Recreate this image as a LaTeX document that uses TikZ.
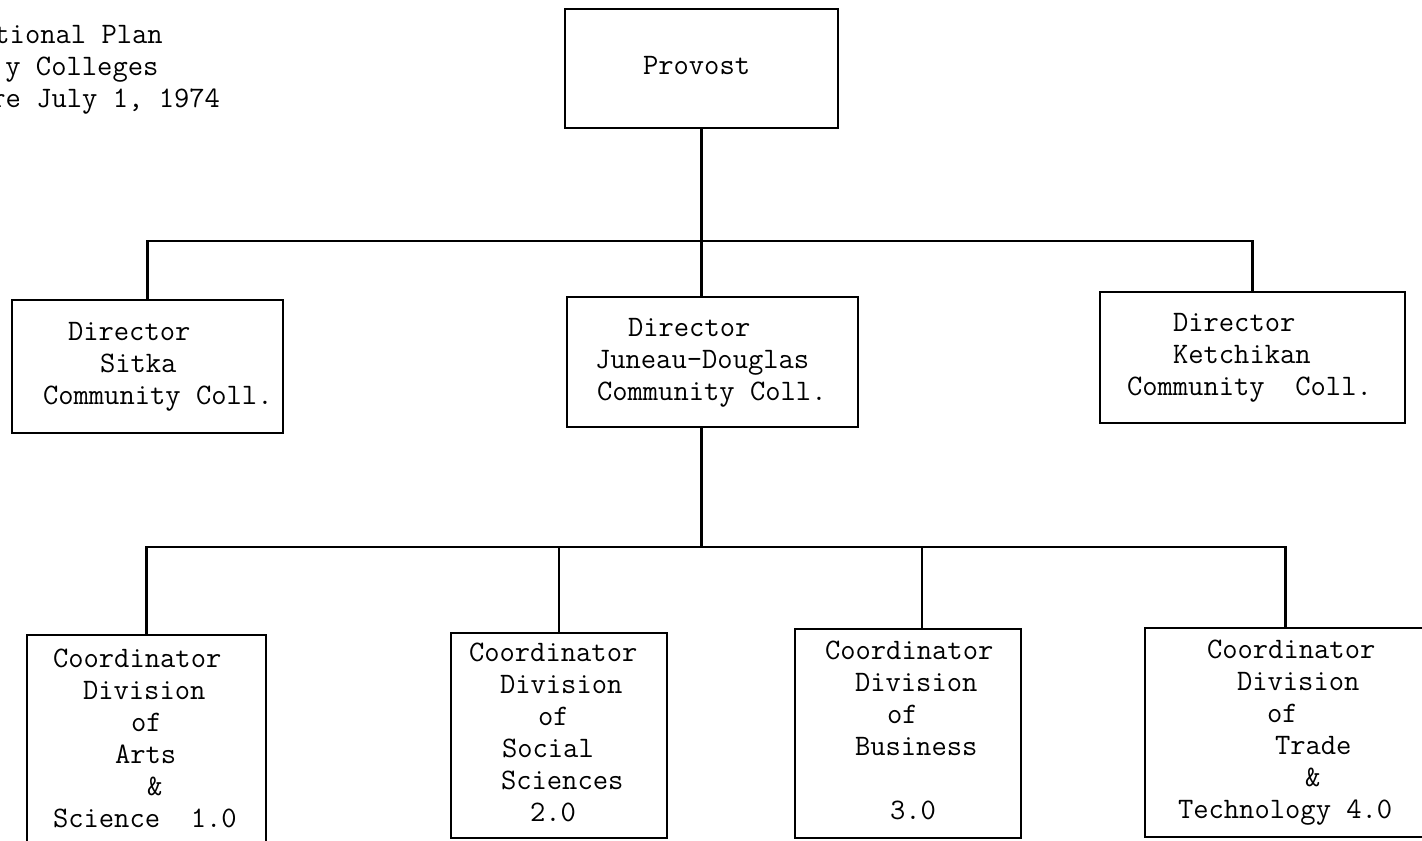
\documentclass[tikz,border=0pt]{standalone}
\usepackage{fontspec}
\newcommand{\tline}[2]{\makebox[\bw][l]{\hspace*{#1pt}\strut #2}}
\begin{document}
\begin{tikzpicture}[x=0.5pt,y=-0.5pt,
  bw/.code={\def\bw{#1}},
  txt/.style={inner sep=0pt, align=left, font=\ttfamily\addfontfeatures{FakeBold=0.6}\fontsize{14.86}{16}\selectfont},
  box/.style={txt, draw, line width=1.1pt, rectangle},
  conn/.style={line width=1.1pt}]
\useasboundingbox (0,0) rectangle (1422,840);
\fill[white] (0,0) rectangle (1422,840);
\clip (0,0) rectangle (1422,840);

% title (cut at the left edge)
\node[txt, anchor=west, bw=120pt] (title) at (-10,69)
  {\tline{2}{tional Plan}\\\tline{7.5}{y Colleges}\\\tline{0}{re July 1, 1974}};

% top
\node[box, bw=136.5pt, minimum width=136.5pt, minimum height=59.5pt] (prov) at (701.5,68.5)
  {\tline{39}{Provost}};

% directors
\node[box, bw=135.5pt, minimum width=135.5pt, minimum height=66.5pt] (sitka) at (147.5,366.5)
  {\tline{28}{Director}\\\tline{44}{Sitka}\\\tline{15.5}{Community Coll.}};
\node[box, bw=145.5pt, minimum width=145.5pt, minimum height=65pt] (jd) at (712.5,362)
  {\tline{30.5}{Director}\\\tline{14}{Juneau-Douglas}\\\tline{15}{Community Coll.}};
\node[box, bw=152.5pt, minimum width=152.5pt, minimum height=65.5pt] (ketch) at (1252.5,357.5)
  {\tline{36.5}{Director}\\\tline{36.5}{Ketchikan}\\\tline{13.5}{Community\ \ Coll.}};

% coordinators
\node[box, bw=119.5pt, minimum width=119.5pt, minimum height=106pt] (arts) at (146.5,741)
  {\tline{13}{Coordinator}\\\tline{28}{Division}\\\tline{52}{of}\\\tline{44}{Arts}\\\tline{60}{\&}\\\tline{13}{Science\ \ 1.0}};
\node[box, bw=108pt, minimum width=108pt, minimum height=102.5pt] (soc) at (559,735.5)
  {\tline{9}{Coordinator}\\\tline{24.5}{Division}\\\tline{43.5}{of}\\\tline{25.5}{Social}\\\tline{25}{Sciences}\\\tline{39.5}{2.0}};
\node[box, bw=113pt, minimum width=113pt, minimum height=104.5pt] (bus) at (908,733.5)
  {\tline{15}{Coordinator}\\\tline{30}{Division}\\\tline{46}{of}\\\tline{30}{Business}\\\tline{0}{}\\\tline{47.5}{3.0}};
\node[box, bw=140.5pt, minimum width=140.5pt, minimum height=104.5pt] (trade) at (1285.5,732.5)
  {\tline{31}{Coordinator}\\\tline{46}{Division}\\\tline{61}{of}\\\tline{65}{Trade}\\\tline{80}{\&}\\\tline{16.5}{Technology 4.0}};

% connectors
\coordinate (busA) at (0,241);
\coordinate (busB) at (0,547);
\draw[conn] (prov.south) -- (prov.south |- jd.north);
\draw[conn] (sitka.north) |- (ketch.north |- busA) -- (ketch.north);
\draw[conn] (prov.south |- jd.south) -- (prov.south |- busB);
\draw[conn] (arts.north) |- (trade.north |- busB) -- (trade.north);
\draw[conn] (soc.north) -- (soc.north |- busB);
\draw[conn] ([xshift=7pt]bus.north) -- ([xshift=7pt]bus.north |- busB);
\end{tikzpicture}
\end{document}
